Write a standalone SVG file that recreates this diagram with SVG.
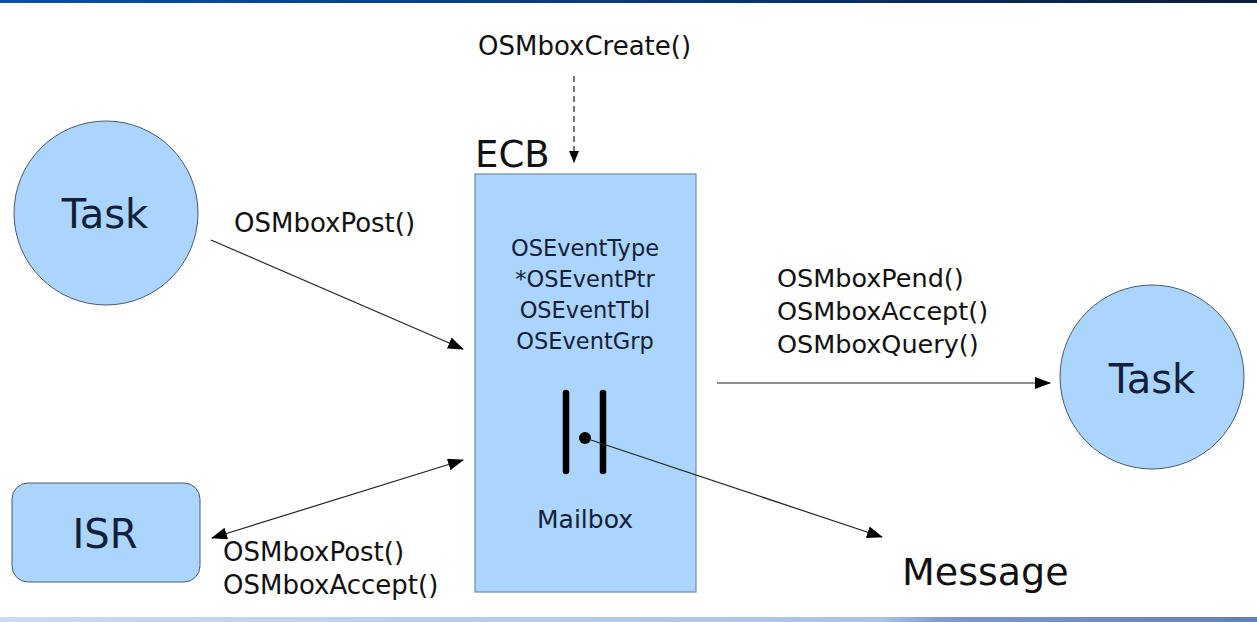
<svg xmlns="http://www.w3.org/2000/svg" width="1257" height="622" viewBox="0 0 1257 622">
  <defs>
    <linearGradient id="topBand" x1="0" y1="0" x2="1" y2="0">
      <stop offset="0" stop-color="#0b4fa6"/>
      <stop offset="0.5" stop-color="#0a3a78"/>
      <stop offset="1" stop-color="#0b1d38"/>
    </linearGradient>
    <linearGradient id="bottomBand" x1="0" y1="0" x2="1" y2="0">
      <stop offset="0" stop-color="#c9dcf1"/>
      <stop offset="0.4" stop-color="#b4cdec"/>
      <stop offset="0.7" stop-color="#a7c3e6"/>
      <stop offset="0.75" stop-color="#7c9cc9"/>
      <stop offset="1" stop-color="#5d82b8"/>
    </linearGradient>
    <marker id="arrow" markerWidth="16" markerHeight="12" refX="15" refY="6" orient="auto" markerUnits="userSpaceOnUse">
      <path d="M0,0 L16,6 L0,12 Z" fill="#000"/>
    </marker>
    <marker id="arrowStart" markerWidth="16" markerHeight="12" refX="1" refY="6" orient="auto" markerUnits="userSpaceOnUse">
      <path d="M16,0 L0,6 L16,12 Z" fill="#000"/>
    </marker>
    <marker id="arrowSmall" markerWidth="12" markerHeight="12" refX="11" refY="6" orient="auto" markerUnits="userSpaceOnUse">
      <path d="M0,1 L12,6 L0,11 Z" fill="#000"/>
    </marker>
  </defs>
  <style>
    .node { fill: #abd5fc; stroke: #4a5a70; stroke-width: 1; }
    .ecb { fill: #abd5fc; stroke: #6f8aa8; stroke-width: 1.2; }
    .lbl { font-family: "DejaVu Sans", Verdana, sans-serif; fill: #111; }
    .inner { font-family: "DejaVu Sans", Verdana, sans-serif; fill: #14203a; text-anchor: middle; }
    .conn { stroke: #222; stroke-width: 1.2; fill: none; }
    .bar { stroke: #000; stroke-width: 6.5; stroke-linecap: round; }
  </style>

  <rect x="0" y="0" width="1257" height="3" fill="url(#topBand)"/>
  <rect x="0" y="617" width="1257" height="5" fill="url(#bottomBand)"/>

  <g id="create-label">
    <text class="lbl" x="478" y="55" font-size="26">OSMboxCreate()</text>
  </g>

  <g id="ecb">
    <text class="lbl" x="475" y="167" font-size="37">ECB</text>
    <rect class="ecb" x="475" y="174" width="221" height="418"/>
    <text class="inner" x="585" y="256" font-size="22.5">OSEventType</text>
    <text class="inner" x="585" y="287" font-size="22.5">*OSEventPtr</text>
    <text class="inner" x="585" y="318" font-size="22.5">OSEventTbl</text>
    <text class="inner" x="585" y="349" font-size="22.5">OSEventGrp</text>
    <g id="mailbox-symbol">
      <line class="bar" x1="566" y1="393" x2="566" y2="471"/>
      <line class="bar" x1="603" y1="393" x2="603" y2="471"/>
      <circle cx="585" cy="438" r="6" fill="#000"/>
    </g>
    <text class="inner" x="585" y="528" font-size="25">Mailbox</text>
  </g>

  <g id="task-left">
    <circle class="node" cx="106" cy="213" r="92"/>
    <text class="inner" x="105" y="228" font-size="40">Task</text>
  </g>

  <g id="task-right">
    <circle class="node" cx="1152" cy="377" r="92"/>
    <text class="inner" x="1152" y="393" font-size="40">Task</text>
  </g>

  <g id="isr">
    <rect class="node" x="12" y="483" width="188" height="99" rx="16" ry="16"/>
    <text class="inner" x="105" y="548" font-size="40">ISR</text>
  </g>

  <g id="message">
    <text class="lbl" x="902" y="585" font-size="38">Message</text>
  </g>

  <g id="connectors">
    <line class="conn" x1="574" y1="76" x2="574" y2="162" stroke-dasharray="6,4" marker-end="url(#arrowSmall)"/>
    <line class="conn" x1="211" y1="240" x2="463" y2="349" marker-end="url(#arrow)"/>
    <line class="conn" x1="212" y1="538" x2="463" y2="460" marker-start="url(#arrowStart)" marker-end="url(#arrow)"/>
    <line class="conn" x1="717" y1="383" x2="1050" y2="383" marker-end="url(#arrow)"/>
    <line class="conn" x1="585" y1="438" x2="882" y2="537" marker-end="url(#arrow)"/>
  </g>

  <g id="connector-labels">
    <text class="lbl" x="234" y="232" font-size="26">OSMboxPost()</text>
    <text class="lbl" x="777" y="287" font-size="25.5">OSMboxPend()</text>
    <text class="lbl" x="777" y="320" font-size="25.5">OSMboxAccept()</text>
    <text class="lbl" x="777" y="353" font-size="25.5">OSMboxQuery()</text>
    <text class="lbl" x="223" y="561" font-size="26">OSMboxPost()</text>
    <text class="lbl" x="223" y="594" font-size="26">OSMboxAccept()</text>
  </g>
</svg>
